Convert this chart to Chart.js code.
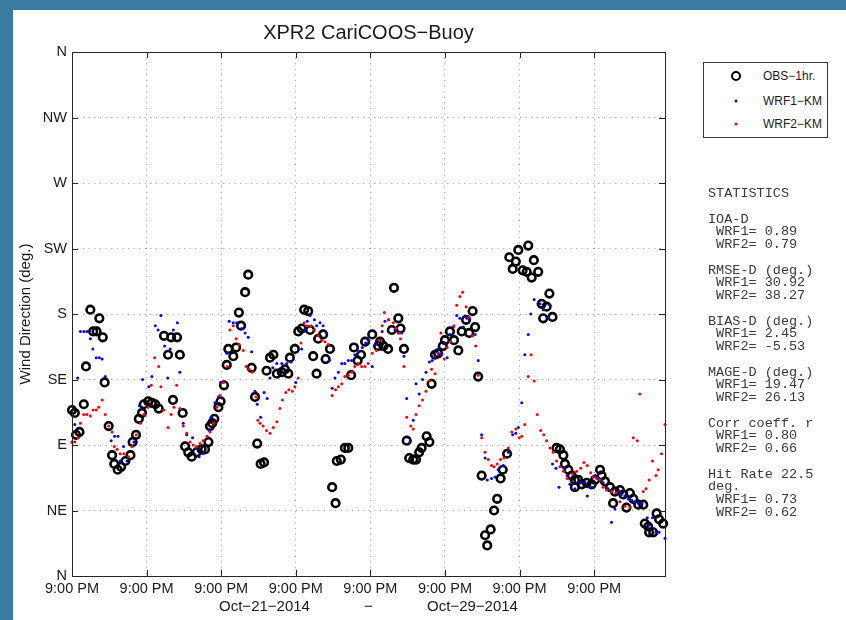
<!DOCTYPE html>
<html>
<head>
<meta charset="utf-8">
<script src="https://cdn.jsdelivr.net/npm/chart.js@4.4.1/dist/chart.umd.min.js"></script>
<style>
  html, body { margin: 0; padding: 0; }
  body { width: 846px; height: 620px; background: #3a7ba0; position: relative; overflow: hidden;
         font-family: "Liberation Sans", Arial, sans-serif; }
  #sheet { position: absolute; left: 13px; top: 10px; width: 833px; height: 610px; background: #fff; }
  #chart { position: absolute; left: 0; top: 0; }
  #title { position: absolute; left: 0; top: 10px; width: 711px; text-align: center;
           font-size: 20px; line-height: 24px; color: #1a1a1a; }
  #legend { position: absolute; left: 690px; top: 52px; width: 123px; height: 74px;
            border: 1px solid #3a3a3a; background: #fff; }
  .row { position: absolute; left: 0; width: 123px; height: 0; }
  .mark { position: absolute; left: 32px; top: 0; transform: translate(-50%, -50%); border-radius: 50%; }
  .ring { width: 6px; height: 6px; border: 2.6px solid #000; }
  .dot { width: 3px; height: 3px; }
  .lab { position: absolute; left: 59px; top: -8px; font-size: 12px; line-height: 16px; color: #1a1a1a; white-space: nowrap; }
  #stats { position: absolute; left: 695px; top: 178px; margin: 0;
           font-family: "Liberation Mono", "DejaVu Sans Mono", monospace; font-size: 13.5px;
           line-height: 12.75px; color: #3a3a3a; }
</style>
</head>
<body>
<div id="sheet">
  <canvas id="chart" width="833" height="610"></canvas>
  <div id="title">XPR2 CariCOOS−Buoy</div>
  <div id="legend">
    <div class="row" style="top:13px"><span class="mark ring"></span><span class="lab">OBS−1hr.</span></div>
    <div class="row" style="top:38px"><span class="mark dot" style="background:#0000ff"></span><span class="lab">WRF1−KM</span></div>
    <div class="row" style="top:61px"><span class="mark dot" style="background:#ff0000"></span><span class="lab">WRF2−KM</span></div>
  </div>
<pre id="stats">STATISTICS

IOA-D
 WRF1= 0.89
 WRF2= 0.79

RMSE-D (deg.)
 WRF1= 30.92
 WRF2= 38.27

BIAS-D (deg.)
 WRF1= 2.45
 WRF2= -5.53

MAGE-D (deg.)
 WRF1= 19.47
 WRF2= 26.13

Corr coeff. r
 WRF1= 0.80
 WRF2= 0.66

Hit Rate 22.5
deg.
 WRF1= 0.73
 WRF2= 0.62</pre>
</div>
<script>
"use strict";

// hours after Oct-21-2014 9:00 PM
const xTickHours = [0, 24, 48, 72, 96, 120, 144, 168];
const xTickLabels = ["9:00 PM", "9:00 PM", "9:00 PM", "9:00 PM", "9:00 PM", "9:00 PM", "9:00 PM", "9:00 PM"];
const xMaxHour = 190.8;

const yTickDeg = [0, 45, 90, 135, 180, 225, 270, 315, 360];
const yTickLabels = ["N", "NE", "E", "SE", "S", "SW", "W", "NW", "N"];

const obsHour = [
  0.0, 0.9, 1.3, 2.4, 3.8, 4.5, 5.9, 6.8, 7.9, 8.8,
  9.9, 10.5, 11.8, 12.9, 13.6, 14.7, 15.8, 17.2, 18.8, 19.5,
  20.6, 21.5, 22.5, 23.1, 24.5, 25.7, 26.8, 27.9, 29.6, 30.9,
  31.9, 32.5, 33.8, 34.7, 35.6, 36.4, 37.4, 38.5, 40.1, 41.7,
  42.8, 43.9, 44.4, 45.1, 45.8, 47.1, 47.8, 48.9, 49.8, 50.3,
  51.9, 52.8, 53.7, 54.4, 55.7, 56.7, 57.8, 58.9, 59.6, 60.7,
  61.8, 62.6, 63.7, 64.8, 65.9, 67.5, 68.5, 69.6, 70.1, 71.7,
  72.8, 73.9, 74.7, 76.0, 76.6, 77.6, 78.7, 79.2, 80.8, 81.6,
  83.0, 83.7, 84.8, 85.2, 86.5, 87.8, 88.9, 89.8, 90.7, 91.9,
  93.0, 94.3, 96.6, 98.5, 99.1, 100.2, 101.7, 102.9, 103.6, 105.0,
  105.7, 106.8, 107.7, 108.5, 109.8, 110.7, 111.7, 112.5, 114.1, 115.0,
  115.7, 116.8, 117.8, 119.3, 120.0, 121.6, 122.9, 124.3, 125.4, 126.8,
  127.8, 128.9, 129.7, 130.7, 131.8, 132.9, 133.6, 134.7, 135.8, 136.8,
  137.9, 138.6, 140.0, 140.7, 141.8, 142.8, 143.6, 145.0, 146.3, 146.8,
  147.9, 148.6, 150.0, 151.1, 151.6, 152.7, 153.6, 154.6, 155.9, 157.0,
  158.1, 158.6, 159.7, 160.8, 161.8, 161.8, 162.9, 164.0, 165.6, 167.2,
  168.3, 169.9, 170.4, 171.5, 173.1, 174.1, 174.7, 176.3, 177.4, 178.4,
  179.5, 180.6, 182.2, 183.8, 184.3, 185.4, 185.7, 187.0, 188.1, 188.9, 190.2
];
const obsDeg = [
  114, 112, 97, 99, 118, 144, 183, 168, 168, 177,
  164, 133, 103, 83, 77, 73, 75, 79, 83, 92,
  97, 108, 112, 118, 120, 119, 118, 115, 165, 152,
  164, 121, 164, 152, 112, 89, 85, 82, 85, 87,
  87, 92, 103, 105, 108, 116, 120, 131, 145, 156,
  151, 157, 181, 172, 195, 207, 143, 123, 91, 77,
  78, 141, 150, 152, 139, 140, 142, 139, 150, 156,
  168, 170, 183, 182, 169, 151, 139, 163, 166, 149,
  156, 61, 50, 79, 80, 88, 88, 138, 157, 148,
  152, 161, 166, 158, 161, 158, 156, 169, 198, 177,
  170, 156, 93, 81, 80, 80, 85, 88, 96, 92,
  132, 152, 153, 158, 162, 168, 162, 155, 168, 176,
  167, 182, 171, 137, 69, 28, 21, 32, 45, 53,
  67, 73, 84, 219, 211, 216, 224, 210, 209, 227,
  205, 217, 209, 187, 177, 185, 194, 178, 88, 87,
  83, 77, 73, 69, 66, 61, 66, 63, 64, 63,
  66, 73, 69, 65, 61, 50, 58, 59, 56, 47,
  57, 53, 49, 49, 36, 34, 30, 30, 43, 39, 36
];

const wrf1Hour = [
  0.0, 0.9, 1.8, 2.7, 3.8, 4.8, 5.9, 6.7, 7.8, 8.8,
  9.7, 10.7, 12.6, 13.7, 14.8, 15.5, 16.6, 17.7, 19.9, 21.7,
  22.7, 24.7, 25.7, 26.8, 27.7, 28.6, 29.8, 30.8, 31.6, 32.6,
  33.9, 34.7, 35.8, 36.9, 38.8, 39.9, 40.9, 42.2, 44.2, 44.9,
  46.0, 47.1, 47.8, 49.8, 50.6, 51.9, 53.0, 54.6, 55.7, 56.7,
  57.8, 58.9, 59.6, 60.7, 61.8, 62.8, 63.7, 64.6, 65.9, 67.5,
  69.1, 70.5, 72.0, 73.9, 74.7, 75.7, 76.6, 78.0, 78.7, 79.8,
  80.8, 81.9, 82.8, 83.7, 84.6, 85.7, 86.8, 87.8, 88.9, 90.0,
  91.0, 92.3, 93.4, 94.5, 95.5, 96.6, 97.7, 99.1, 99.8, 100.7,
  101.8, 103.9, 105.0, 106.1, 106.8, 107.7, 108.7, 109.8, 110.7, 111.7,
  112.8, 113.9, 115.0, 115.9, 116.8, 117.8, 118.9, 119.8, 120.7, 121.6,
  122.7, 123.8, 124.8, 125.9, 127.0, 127.8, 129.7, 130.7, 131.8, 132.9,
  133.6, 135.0, 136.1, 137.1, 138.8, 140.4, 141.8, 142.8, 143.6, 144.7,
  145.7, 146.8, 147.6, 148.7, 150.6, 151.6, 153.2, 153.8, 154.6, 155.7,
  156.7, 158.3, 159.3, 160.2, 161.8, 163.4, 164.7, 165.8, 167.2, 168.3,
  169.3, 170.9, 172.5, 173.6, 174.7, 175.7, 176.8, 177.9, 179.0, 180.1,
  181.1, 182.2, 183.3, 185.1, 185.7, 186.8, 187.9, 188.9, 190.8
];
const wrf1Deg = [
  92, 104, 136, 168, 168, 168, 163, 156, 150, 150,
  149, 137, 93, 96, 96, 79, 89, 79, 92, 117,
  135, 130, 137, 172, 169, 179, 158, 136, 156, 169,
  174, 140, 105, 97, 95, 88, 82, 84, 100, 109,
  119, 123, 133, 153, 175, 174, 174, 170, 167, 164,
  154, 127, 118, 109, 126, 122, 136, 143, 146, 146,
  146, 147, 133, 156, 169, 175, 179, 176, 172, 174,
  172, 167, 148, 129, 136, 140, 146, 146, 148, 148,
  152, 154, 157, 160, 162, 144, 159, 162, 168, 175,
  176, 169, 167, 167, 151, 122, 92, 107, 132, 125,
  135, 140, 147, 148, 151, 156, 153, 160, 150, 166,
  171, 179, 177, 171, 177, 176, 166, 148, 97, 81,
  66, 67, 68, 73, 76, 85, 97, 98, 102, 119,
  152, 166, 180, 190, 187, 183, 178, 186, 77, 74,
  61, 74, 69, 63, 60, 64, 64, 55, 61, 69,
  67, 64, 60, 37, 46, 58, 56, 55, 53, 52,
  51, 50, 50, 40, 35, 40, 30, 30, 26
];

const wrf2Hour = [
  0.0, 0.9, 1.9, 2.7, 3.8, 4.8, 5.9, 6.8, 7.8, 8.6,
  9.7, 10.7, 11.8, 12.9, 13.6, 14.5, 15.5, 16.7, 18.2, 19.3,
  20.7, 22.0, 23.1, 24.5, 25.5, 26.6, 27.9, 28.6, 29.5, 30.9,
  31.9, 32.8, 33.7, 34.7, 35.8, 36.9, 38.0, 39.0, 40.1, 41.2,
  42.2, 43.5, 44.4, 45.5, 46.6, 47.6, 48.7, 50.0, 50.8, 51.9,
  52.8, 53.8, 55.1, 56.0, 57.0, 58.1, 59.2, 59.8, 60.5, 61.5,
  62.6, 63.7, 64.8, 65.9, 66.9, 67.7, 68.8, 69.8, 70.9, 71.7,
  72.8, 73.7, 74.7, 75.7, 76.9, 78.0, 79.2, 80.3, 81.4, 82.4,
  83.7, 84.8, 85.7, 86.8, 87.8, 88.9, 90.0, 91.0, 92.1, 93.2,
  94.3, 95.3, 96.6, 98.0, 98.8, 99.8, 100.5, 101.8, 103.4, 104.2,
  105.3, 105.7, 106.8, 107.7, 109.0, 109.8, 110.7, 111.7, 112.8, 113.9,
  115.0, 115.7, 116.8, 117.8, 118.7, 119.8, 120.7, 121.8, 122.9, 123.8,
  124.8, 125.7, 126.8, 127.8, 128.9, 129.9, 130.7, 131.8, 132.9, 133.9,
  135.0, 135.8, 136.8, 137.9, 139.0, 140.4, 141.5, 142.8, 143.9, 144.7,
  145.7, 146.8, 147.7, 148.7, 149.7, 150.8, 151.8, 152.7, 153.8, 154.8,
  155.9, 157.0, 158.1, 159.3, 161.1, 162.4, 163.7, 164.7, 165.8, 166.9,
  167.7, 168.8, 169.9, 170.9, 172.0, 173.6, 175.0, 176.3, 177.9, 179.5,
  180.6, 181.9, 182.7, 183.8, 184.7, 185.7, 186.8, 187.9, 188.6, 189.7, 190.8
];
const wrf2Deg = [
  92, 92, 95, 105, 111, 111, 110, 114, 114, 116,
  121, 111, 103, 99, 89, 87, 84, 84, 82, 89,
  97, 105, 111, 116, 131, 150, 144, 130, 114, 102,
  111, 116, 131, 115, 103, 98, 92, 90, 89, 91,
  93, 96, 99, 105, 116, 124, 133, 144, 169, 172,
  163, 159, 155, 144, 142, 140, 123, 107, 105, 103,
  100, 98, 102, 106, 115, 121, 126, 128, 127, 130,
  136, 160, 174, 172, 172, 169, 165, 162, 161, 159,
  124, 128, 130, 132, 137, 138, 140, 144, 146, 144,
  144, 146, 153, 155, 162, 172, 181, 176, 174, 170,
  167, 163, 144, 109, 103, 101, 111, 117, 121, 127,
  134, 142, 139, 153, 167, 149, 157, 161, 172, 186,
  192, 195, 185, 178, 165, 158, 138, 95, 85, 80,
  76, 75, 77, 80, 81, 88, 99, 101, 95, 96,
  104, 137, 152, 134, 111, 100, 97, 93, 88, 85,
  79, 75, 72, 67, 70, 72, 74, 78, 76, 71,
  68, 67, 66, 61, 59, 58, 57, 51, 48, 47,
  95, 93, 125, 58, 60, 66, 79, 69, 73, 84, 104
];

const xLabel = "Oct−21−2014             −             Oct−29−2014";
const yLabel = "Wind Direction (deg.)";

function points(hours, degs) {
  return hours.map((h, i) => ({ x: h, y: degs[i] }));
}

Chart.defaults.font.family = "'Liberation Sans', Arial, sans-serif";
Chart.defaults.color = "#1a1a1a";

// axes box with inward tick marks, drawn over the data like MATLAB does
const frame = {
  id: "frame",
  afterDraw(chart) {
    const { ctx, chartArea: a, scales } = chart;
    ctx.save();
    ctx.strokeStyle = "#262626";
    ctx.lineWidth = 1;
    ctx.beginPath();
    for (const t of scales.x.ticks) {
      const px = Math.round(scales.x.getPixelForValue(t.value)) + 0.5;
      ctx.moveTo(px, a.bottom); ctx.lineTo(px, a.bottom - 6);
      ctx.moveTo(px, a.top); ctx.lineTo(px, a.top + 6);
    }
    for (const t of scales.y.ticks) {
      const py = Math.round(scales.y.getPixelForValue(t.value)) + 0.5;
      ctx.moveTo(a.left, py); ctx.lineTo(a.left + 6, py);
      ctx.moveTo(a.right, py); ctx.lineTo(a.right - 6, py);
    }
    ctx.stroke();
    ctx.strokeRect(Math.round(a.left) + 0.5, Math.round(a.top) + 0.5,
      Math.round(a.right - a.left), Math.round(a.bottom - a.top));
    ctx.restore();
  },
};

const dotted = { display: false, dash: [1, 4.6] };
const gridStyle = { color: "#9a9a9a", lineWidth: 1, drawTicks: false };

new Chart(document.getElementById("chart"), {
  type: "scatter",
  data: {
    datasets: [
      {
        label: "OBS−1hr.",
        data: points(obsHour, obsDeg),
        pointRadius: 3.8,
        borderWidth: 2.6,
        borderColor: "#000",
        backgroundColor: "rgba(0,0,0,0)",
        order: 3,
        clip: false,
      },
      {
        label: "WRF1−KM",
        data: points(wrf1Hour, wrf1Deg),
        pointRadius: 1.5,
        borderWidth: 0,
        backgroundColor: "#0000ff",
        order: 2,
        clip: false,
      },
      {
        label: "WRF2−KM",
        data: points(wrf2Hour, wrf2Deg),
        pointRadius: 1.5,
        borderWidth: 0,
        backgroundColor: "#ff0000",
        order: 1,
        clip: false,
      },
    ],
  },
  options: {
    responsive: false,
    animation: false,
    events: [],
    layout: { padding: { left: 0, right: 181, top: 42, bottom: 0 } },
    plugins: { legend: { display: false }, tooltip: { enabled: false }, title: { display: false } },
    scales: {
      x: {
        type: "linear",
        min: 0,
        max: xMaxHour,
        afterBuildTicks: (s) => { s.ticks = xTickHours.map((v) => ({ value: v })); },
        afterFit: (s) => { s.height = 44; },
        ticks: {
          autoSkip: false,
          maxRotation: 0,
          padding: 4,
          font: { size: 14.5 },
          color: "#1a1a1a",
          callback: (v) => xTickLabels[xTickHours.indexOf(v)],
        },
        grid: gridStyle,
        border: dotted,
        title: { display: true, text: xLabel, font: { size: 15 }, color: "#1a1a1a", padding: { top: 0, bottom: 4 } },
      },
      y: {
        type: "linear",
        min: 0,
        max: 360,
        afterBuildTicks: (s) => { s.ticks = yTickDeg.map((v) => ({ value: v })); },
        afterFit: (s) => { s.width = 59; },
        ticks: {
          autoSkip: false,
          padding: 5,
          font: { size: 14.5 },
          color: "#1a1a1a",
          callback: (v) => yTickLabels[yTickDeg.indexOf(v)],
        },
        grid: gridStyle,
        border: dotted,
        title: { display: true, text: yLabel, font: { size: 15 }, color: "#1a1a1a", padding: { top: 4, bottom: 0 } },
      },
    },
  },
  plugins: [frame],
});
</script>
</body>
</html>
